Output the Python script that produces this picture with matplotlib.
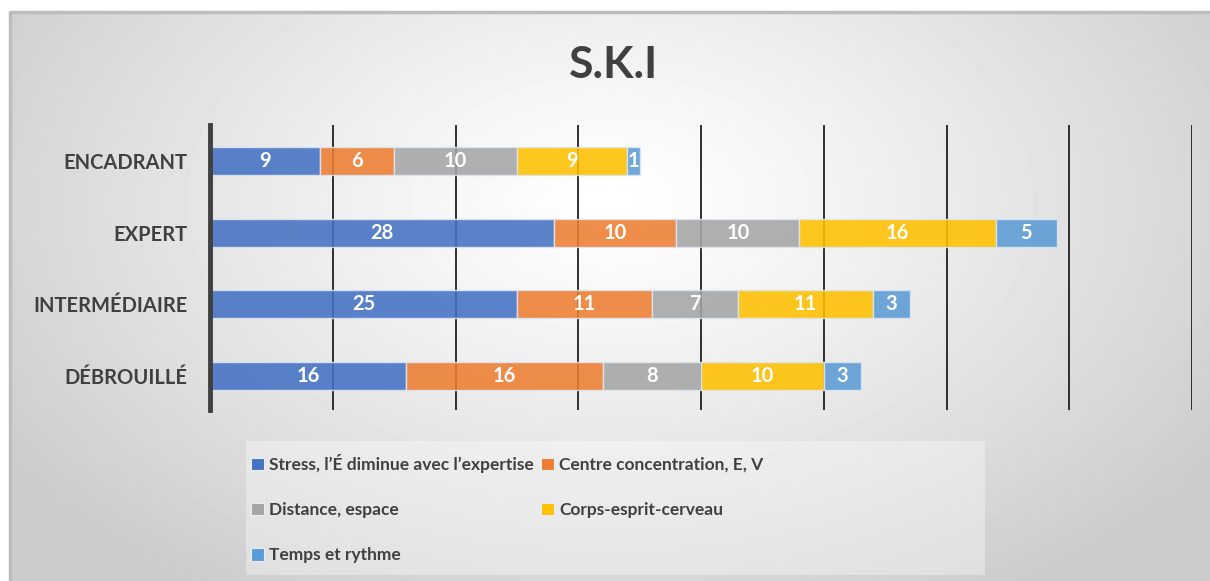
import numpy as np
import matplotlib.pyplot as plt
from matplotlib.patches import Rectangle, Patch
from matplotlib.lines import Line2D

plt.rcParams['font.family'] = ['Lato', 'DejaVu Sans']

categories = ["ENCADRANT", "EXPERT", "INTERMÉDIAIRE", "DÉBROUILLÉ"]
series_names = ["Stress, l\u2019É diminue avec l\u2019expertise",
                "Centre concentration, E, V",
                "Distance, espace",
                "Corps-esprit-cerveau",
                "Temps et rythme"]
stress = [9, 28, 25, 16]
centre = [6, 10, 11, 16]
distance = [10, 10, 7, 8]
corps = [9, 16, 11, 10]
temps = [1, 5, 3, 3]
colors = ["#4472C4", "#ED7D31", "#A5A5A5", "#FFC000", "#5B9BD5"]

W, H = 1210, 581
fig = plt.figure(figsize=(W / 100, H / 100), dpi=100)
fig.patch.set_facecolor("white")

# radial gray background inside the chart frame
bg = fig.add_axes([10 / W, 0, 1200 / W, 569 / H], zorder=-10)
yy, xx = np.mgrid[0:569, 0:1200]
d = np.sqrt(((xx - 600) / 720.0) ** 2 + ((yy - 190) / 460.0) ** 2)
shade = 1 - 0.2 * np.clip(d, 0, 1) ** 1.2
bg.imshow(shade, cmap="gray", vmin=0, vmax=1, aspect="auto", interpolation="bilinear")
bg.axis("off")
# frame: top and left edges only (the rest is cropped in the original)
fig.add_artist(Line2D([10 / W, 10 / W, 1], [0, 1 - 12 / H, 1 - 12 / H],
                      transform=fig.transFigure, color="#bdbdbd", lw=2.5, zorder=-5))

ax = fig.add_axes([210 / W, 1 - 410 / H, 982 / W, 285 / H])
ax.set_facecolor("none")

data = [stress, centre, distance, corps, temps]
y = np.arange(len(categories))
left = np.zeros(len(categories))
for vals, col in zip(data, colors):
    bars = ax.barh(y, vals, left=left, height=0.39, color=col, alpha=0.88,
                   edgecolor="#dfe6f2", linewidth=1.0, zorder=3)
    for b, v in zip(bars, vals):
        ax.text(b.get_x() + b.get_width() / 2, b.get_y() + b.get_height() / 2, str(v),
                ha="center", va="center", color="white", fontsize=14.5,
                fontweight="bold", zorder=4)
    left += np.array(vals)

ax.set_xlim(0, 80)
ax.set_ylim(3.47, -0.5)
ax.set_xticks(range(0, 90, 10))
ax.tick_params(axis="x", length=0, labelbottom=False)
ax.grid(axis="x", color="#202020", lw=1.3, zorder=1)
ax.set_yticks(y, categories)
ax.tick_params(axis="y", length=0, pad=16, labelsize=14.5, labelcolor="#404040")
for lab in ax.get_yticklabels():
    lab.set_fontweight("bold")
for s in ["top", "right", "bottom"]:
    ax.spines[s].set_visible(False)
ax.spines["left"].set_color("#404040")
ax.spines["left"].set_linewidth(3.5)
ax.spines["left"].set_zorder(5)

fig.text(614 / W, 1 - 65 / H, "S.K.I", ha="center", va="center",
         fontsize=32, fontweight="bold", color="#404040")

# legend box
fig.add_artist(Rectangle((246 / W, 1 - 575 / H), 739 / W, 134 / H,
                         transform=fig.transFigure, facecolor="white", alpha=0.35,
                         edgecolor="none", zorder=1))
handles = [Patch(facecolor=c, edgecolor="#e8ecf4", lw=0.8) for c in colors]
order = [0, 2, 4, 1, 3]
leg = fig.legend([handles[i] for i in order], [series_names[i] for i in order],
                 loc="upper left", bbox_to_anchor=(251 / W, 1 - 454 / H), ncol=2,
                 frameon=False, fontsize=12.5, handlelength=0.75, handleheight=0.75,
                 handletextpad=0.3, columnspacing=0.4, labelspacing=1.68,
                 borderpad=0, borderaxespad=0)
for t in leg.get_texts():
    t.set_fontweight("bold")
    t.set_color("#404040")

plt.savefig("out.png", dpi=100)
